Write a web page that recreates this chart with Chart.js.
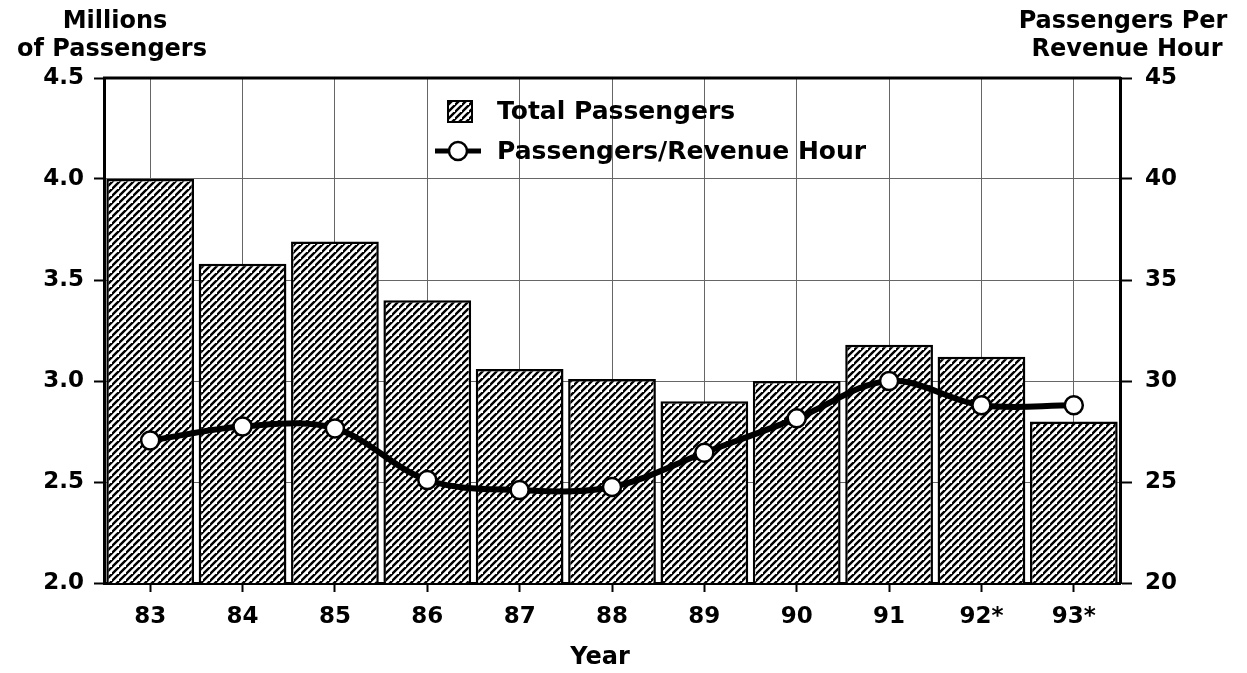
<!DOCTYPE html>
<html>
<head>
<meta charset="utf-8">
<script src="https://cdn.jsdelivr.net/npm/chart.js@4"></script>
<style>
  html, body { margin: 0; padding: 0; background: #fff; }
  #wrap { width: 1247px; height: 673px; }
</style>
</head>
<body>
<div id="wrap"><canvas id="chart" width="1247" height="673"></canvas></div>
<script>
// data
var years = ['83', '84', '85', '86', '87', '88', '89', '90', '91', '92*', '93*'];
var totalPassengers = [4.0, 3.58, 3.69, 3.4, 3.06, 3.01, 2.9, 3.0, 3.18, 3.12, 2.8];
var passPerHour = [27.05, 27.75, 27.65, 25.1, 24.6, 24.75, 26.45, 28.15, 30.0, 28.8, 28.8];
var leftTicks = [2.0, 2.5, 3.0, 3.5, 4.0, 4.5];
var rightTicks = [20, 25, 30, 35, 40, 45];

var FONT = 'DejaVu Sans';

// diagonal hatch fill like the printed bars
function makeHatch() {
  var n = 7;
  var c = document.createElement('canvas');
  c.width = n; c.height = n;
  var g = c.getContext('2d');
  g.fillStyle = '#fff';
  g.fillRect(0, 0, n, n);
  g.strokeStyle = '#000';
  g.lineWidth = 2.4;
  g.beginPath();
  g.moveTo(-1, n + 1); g.lineTo(n + 1, -1);
  g.moveTo(-n - 1, n + 1); g.lineTo(1, -1);
  g.moveTo(n - 1, 2 * n + 1); g.lineTo(2 * n + 1, n - 1);
  g.stroke();
  return g.createPattern(c, 'repeat');
}
var hatch = makeHatch();

var gridColor = '#666';

// frame, axis titles and legend drawn on top
var extras = {
  id: 'extras',
  afterDraw: function(chart) {
    var ctx = chart.ctx;
    var a = chart.chartArea;
    ctx.save();
    ctx.strokeStyle = '#000';
    ctx.lineWidth = 3;
    ctx.beginPath();
    ctx.moveTo(a.left - 1, a.top);
    ctx.lineTo(a.right + 1, a.top);
    ctx.stroke();

    ctx.fillStyle = '#000';
    ctx.textAlign = 'center';
    ctx.textBaseline = 'middle';
    ctx.font = 'bold 24px "' + FONT + '"';
    ctx.fillText('Millions', 115, 22);
    ctx.fillText('of Passengers', 112, 50);
    ctx.fillText('Passengers Per', 1123, 22);
    ctx.fillText('Revenue Hour', 1127, 50);
    ctx.fillText('Year', 600, 658);

    // legend
    ctx.fillStyle = hatch;
    ctx.fillRect(448, 101, 24, 21);
    ctx.lineWidth = 2;
    ctx.strokeRect(448, 101, 24, 21);
    ctx.beginPath();
    ctx.lineWidth = 5;
    ctx.moveTo(435, 151);
    ctx.lineTo(481, 151);
    ctx.stroke();
    ctx.beginPath();
    ctx.arc(458, 151, 9, 0, Math.PI * 2);
    ctx.fillStyle = '#fff';
    ctx.fill();
    ctx.lineWidth = 2.5;
    ctx.stroke();
    ctx.fillStyle = '#000';
    ctx.textAlign = 'left';
    ctx.font = 'bold 25px "' + FONT + '"';
    ctx.fillText('Total Passengers', 497, 112);
    ctx.fillText('Passengers/Revenue Hour', 497, 152);
    ctx.restore();
  }
};

var ctx = document.getElementById('chart');
var myChart = new Chart(ctx, {
  data: {
    labels: years,
    datasets: [
      {
        type: 'line',
        label: 'Passengers/Revenue Hour',
        data: passPerHour,
        yAxisID: 'yRight',
        borderColor: '#000',
        borderWidth: 6,
        tension: 0.35,
        pointRadius: 9,
        pointBackgroundColor: '#fff',
        pointBorderColor: '#000',
        pointBorderWidth: 2.5,
        order: 0
      },
      {
        type: 'bar',
        label: 'Total Passengers',
        data: totalPassengers,
        yAxisID: 'y',
        backgroundColor: hatch,
        borderColor: '#000',
        borderWidth: 2.5,
        borderSkipped: false,
        barPercentage: 0.95,
        categoryPercentage: 1.0,
        order: 1
      }
    ]
  },
  options: {
    responsive: false,
    animation: false,
    layout: { padding: { top: 78, left: 0, right: 0, bottom: 0 } },
    plugins: {
      legend: { display: false },
      tooltip: { enabled: false }
    },
    scales: {
      x: {
        offset: true,
        grid: {
          offset: false,
          color: gridColor,
          lineWidth: 1,
          tickLength: 9,
          tickColor: '#000',
          tickWidth: 2
        },
        border: { color: '#000', width: 3 },
        ticks: {
          color: '#000',
          padding: 11,
          font: { family: FONT, size: 23, weight: 'bold' }
        },
        afterFit: function(s) { s.height = 90; }
      },
      y: {
        position: 'left',
        min: 2.0,
        max: 4.5,
        afterBuildTicks: function(s) { s.ticks = leftTicks.map(v => ({ value: v })); },
        grid: {
          color: gridColor,
          lineWidth: 1,
          tickLength: 10,
          tickColor: '#000',
          tickWidth: 2
        },
        border: { color: '#000', width: 3 },
        ticks: {
          color: '#000',
          padding: 10,
          callback: v => v.toFixed(1),
          font: { family: FONT, size: 23, weight: 'bold' }
        },
        afterFit: function(s) { s.width = 104; }
      },
      yRight: {
        position: 'right',
        min: 20,
        max: 45,
        afterBuildTicks: function(s) { s.ticks = rightTicks.map(v => ({ value: v })); },
        grid: {
          drawOnChartArea: false,
          tickLength: 12,
          tickColor: '#000',
          tickWidth: 2
        },
        border: { color: '#000', width: 3 },
        ticks: {
          color: '#000',
          padding: 13,
          font: { family: FONT, size: 23, weight: 'bold' }
        },
        afterFit: function(s) { s.width = 127; }
      }
    }
  },
  plugins: [extras]
});
</script>
</body>
</html>
